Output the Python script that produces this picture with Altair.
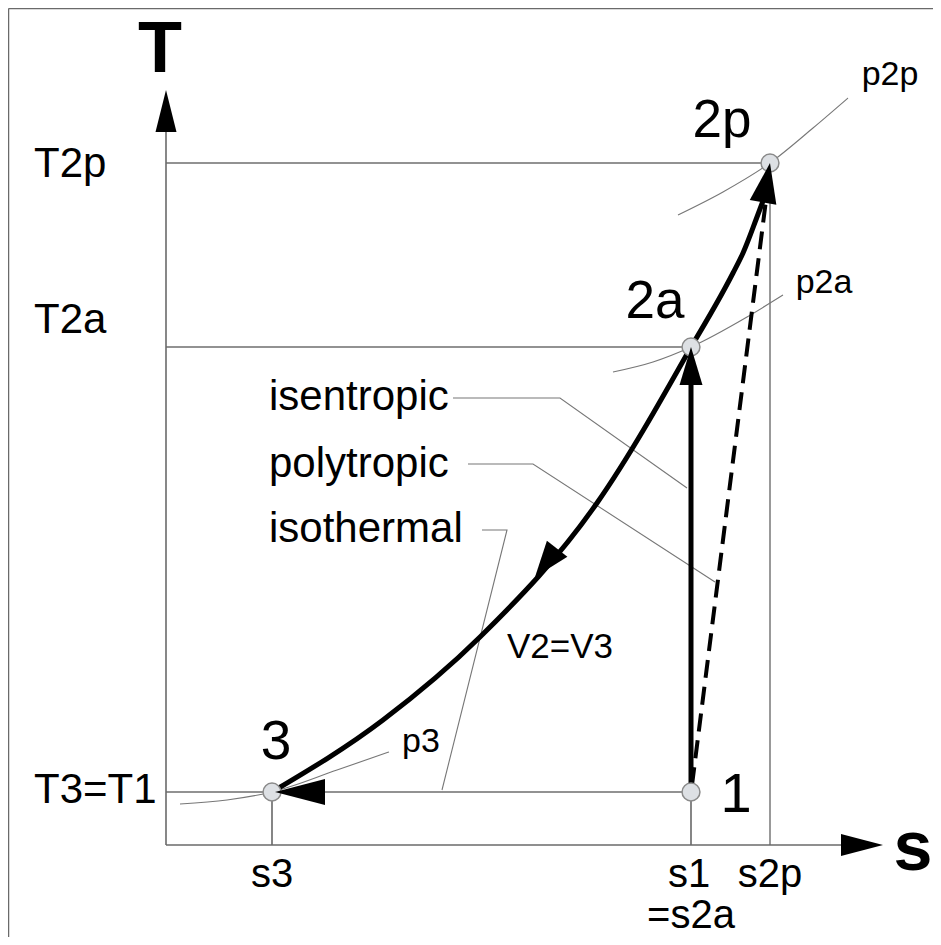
import altair as alt
import pandas as pd

# ---------------- data: entropy s and temperature T (diagram units) ----------------
s3, s1, s2p = 1.06, 5.25, 6.04
T1, T2a, T2p = 0.53, 4.98, 6.82

# states
state_s = [s1, s1, s2p, s3]
state_T = [T1, T2a, T2p, T1]

# constant-volume curve 3 -> 2a (V2 = V3)
isov_s = [1.06, 2.17, 3.14, 4.31, 5.25]
isov_T = [0.53, 1.25, 2.08, 3.42, 4.98]
# curve 2a -> 2p
up_s = [5.25, 5.67, 5.77, 5.91, 5.97]
up_T = [4.98, 5.72, 5.92, 6.28, 6.44]
# polytropic (dashed) 1 -> 2p
poly_s = [5.26, 6.00]
poly_T = [0.60, 6.45]
# isentropic 1 -> 2a
isen_s = [s1, s1]
isen_T = [T1, 4.62]

# isobars
p2p_s = [5.12, 5.57, 6.04, 6.47, 6.82]
p2p_T = [6.30, 6.53, 6.82, 7.17, 7.47]
p2a_s = [4.47, 4.87, 5.25, 5.81, 6.17]
p2a_T = [4.73, 4.83, 4.98, 5.28, 5.50]
p3_s = [0.14, 0.61, 1.06, 1.71, 2.23]
p3_T = [0.41, 0.45, 0.53, 0.75, 0.93]

# leader lines for the labels
lead_isen_s = [2.87, 3.94, 5.21]
lead_isen_T = [4.47, 4.47, 3.57]
lead_poly_s = [3.02, 3.67, 5.49]
lead_poly_T = [3.81, 3.81, 2.63]
lead_isot_s = [3.16, 3.41, 2.76]
lead_isot_T = [3.15, 3.15, 0.55]

# axes ends
s_axis_end, s_axis_tip = 6.75, 7.17
T_axis_end, T_axis_tip = 7.13, 7.55

# labels
left_labels = ["T2p", "T2a", "T3=T1", "isentropic", "polytropic", "isothermal"]
left_s = [-1.32, -1.32, -1.32, 1.03, 1.03, 1.03]
left_T = [6.68, 5.12, 0.42, 4.35, 3.68, 3.03]

center_labels = ["s3", "s1", "s2p", "=s2a", "1", "3", "2a", "2p", "p2p", "p2a", "p3", "V2=V3"]
center_s = [1.06, 5.23, 6.04, 5.25, 5.70, 1.10, 4.89, 5.56, 7.24, 6.58, 2.55, 3.94]
center_T = [-0.42, -0.42, -0.42, -0.83, 0.33, 0.86, 5.27, 7.08, 7.60, 5.52, 0.93, 1.87]
center_size = [40, 40, 40, 40, 56, 55, 53, 53, 34, 34, 34, 35]

# axis titles
T_title_s, T_title_T = -0.06, 7.73
s_title_s, s_title_T = 7.665, -0.25

# arrowheads: tip position, direction (deg clockwise from up), length, width
arrow_s = [0.0, s_axis_tip, s1, s2p, 3.69, 1.09]
arrow_T = [T_axis_tip, 0.0, T2a, T2p, 2.68, T1]
arrow_angle = [0, 90, 0, 10, 218, 270]
arrow_len = [42, 42, 38, 40, 36, 50]
arrow_wid = [21, 22, 23, 27, 26, 26]

# ---------------- chart ----------------
W, H = 925, 929
xs = alt.Scale(domain=[-1.58, 7.67], nice=False, zero=False)
ys = alt.Scale(domain=[-0.92, 8.37], nice=False, zero=False)
X = alt.X("s:Q", scale=xs, axis=None)
Y = alt.Y("T:Q", scale=ys, axis=None)
FONT = "Liberation Sans"


def lines(groups):
    rows = []
    for g, (ss, tt) in enumerate(groups):
        for i, (a, b) in enumerate(zip(ss, tt)):
            rows.append({"g": g, "i": i, "s": a, "T": b})
    return pd.DataFrame(rows)


def line_layer(groups, **mk):
    return alt.Chart(lines(groups)).mark_line(**mk).encode(
        x=X, y=Y, detail="g:N", order="i:Q"
    )


frame = line_layer(
    [([-1.575, -1.575], [-0.92, 8.365]), ([-1.575, 7.67], [8.365, 8.365])],
    color="#6a6a6a", strokeWidth=1.5,
)

refs = line_layer(
    [
        ([0, s2p], [T2p, T2p]),
        ([0, s1], [T2a, T2a]),
        ([0, s1], [T1, T1]),
        ([s2p, s2p], [0, T2p]),
    ],
    color="#6e6e6e", strokeWidth=1.4,
)

ticks = line_layer(
    [([s3, s3], [0, T1]), ([s1, s1], [0, T1])],
    color="#222222", strokeWidth=1.1,
)

isobars = line_layer(
    [(p2p_s, p2p_T), (p2a_s, p2a_T), (p3_s, p3_T)],
    color="#777777", strokeWidth=1.1, interpolate="monotone",
)

leaders = line_layer(
    [(lead_isen_s, lead_isen_T), (lead_poly_s, lead_poly_T), (lead_isot_s, lead_isot_T)],
    color="#777777", strokeWidth=1.1,
)

axes = line_layer(
    [([0, 0], [0, T_axis_end]), ([0, s_axis_end], [0, 0])],
    color="#6a6a6a", strokeWidth=1.6,
)

thick = line_layer(
    [(isov_s, isov_T), (up_s, up_T), (isen_s, isen_T)],
    color="#000000", strokeWidth=5, interpolate="monotone",
)

dashed = line_layer(
    [(poly_s, poly_T)],
    color="#000000", strokeWidth=4, strokeDash=[18, 9],
)

states = alt.Chart(pd.DataFrame({"s": state_s, "T": state_T})).mark_circle(
    size=320, fill="#dde0e4", stroke="#8a8a8a", strokeWidth=1.5, opacity=1
).encode(x=X, y=Y)

arrow_df = pd.DataFrame(
    {
        "s": arrow_s,
        "T": arrow_T,
        "angle": arrow_angle,
        "size": [l * l for l in arrow_len],
        "shape": [
            "M0,0L{w:.3f},2L-{w:.3f},2Z".format(w=w / l) for w, l in zip(arrow_wid, arrow_len)
        ],
    }
)
arrows = alt.Chart(arrow_df).mark_point(
    filled=True, color="#000000", opacity=1, strokeWidth=0
).encode(
    x=X,
    y=Y,
    angle=alt.Angle("angle:Q", scale=None),
    size=alt.Size("size:Q", scale=None),
    shape=alt.Shape("shape:N", scale=None),
)

left_text = alt.Chart(
    pd.DataFrame({"s": left_s, "T": left_T, "label": left_labels})
).mark_text(
    align="left", baseline="alphabetic", font=FONT, fontSize=42, color="#000000"
).encode(x=X, y=Y, text="label:N")

center_text = alt.Chart(
    pd.DataFrame({"s": center_s, "T": center_T, "label": center_labels, "fs": center_size})
).mark_text(
    align="center", baseline="alphabetic", font=FONT, color="#000000"
).encode(x=X, y=Y, text="label:N", size=alt.Size("fs:Q", scale=None))

T_title = alt.Chart(
    pd.DataFrame({"s": [T_title_s], "T": [T_title_T], "label": ["T"]})
).mark_text(
    align="center", baseline="alphabetic", font=FONT, fontSize=72,
    fontWeight="bold", color="#000000"
).encode(x=X, y=Y, text="label:N")

s_title = alt.Chart(
    pd.DataFrame({"s": [s_title_s], "T": [s_title_T], "label": ["s"]})
).mark_text(
    align="right", baseline="alphabetic", font=FONT, fontSize=70,
    fontWeight="bold", color="#000000"
).encode(x=X, y=Y, text="label:N")

chart = (
    alt.layer(
        frame, refs, ticks, isobars, leaders, axes, thick, dashed,
        states, arrows, left_text, center_text, T_title, s_title,
    )
    .properties(
        width=W, height=H, padding=0,
        autosize=alt.AutoSizeParams(type="none"),
        background="white",
    )
    .configure_view(stroke=None)
)

chart.save("out.html", embed_options={"renderer": "svg", "actions": False})
